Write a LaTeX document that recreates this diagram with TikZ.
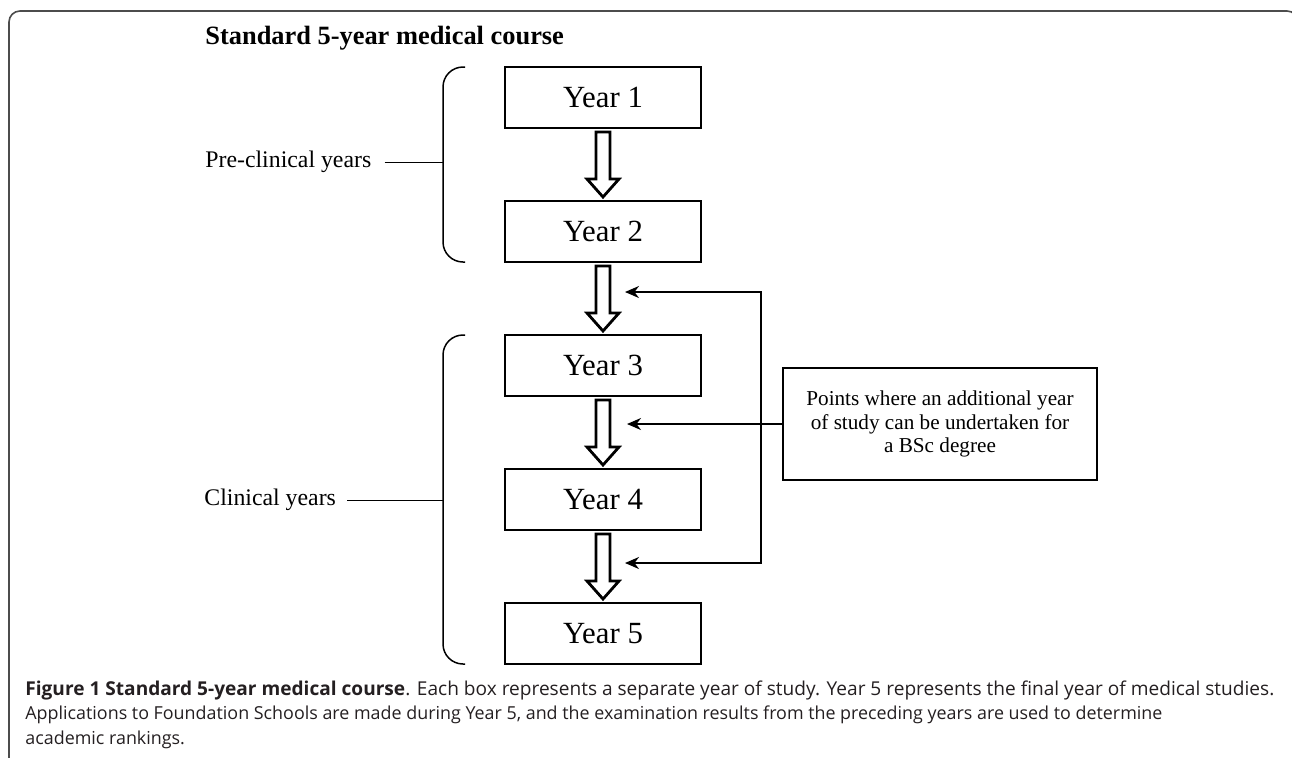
\documentclass[tikz,border=0pt]{standalone}
\usepackage{fontspec}
\usepackage{graphicx}
\setmainfont{Liberation Serif}
\newfontfamily\figcapfont{Open Sans}
\usetikzlibrary{positioning,calc,arrows.meta}
\definecolor{framegrey}{rgb}{0.3, 0.3, 0.3}
\definecolor{captiongrey}{rgb}{0.14, 0.12, 0.13}
\tikzset {
        yearbox/.style={draw,line width=1.4pt,rectangle,inner sep=0pt,outer sep=0pt,minimum width=98pt,minimum height=30.5pt,font=\fontsize{15.4}{18}\selectfont},
        notebox/.style={draw,line width=1.4pt,rectangle,align=center,inner sep=0pt,outer sep=0pt,minimum width=157pt,minimum height=56pt,font=\fontsize{10.6}{11.6}\selectfont},
        sidelabel/.style={inner sep=0pt,anchor=base west,font=\fontsize{11.9}{14}\selectfont},
        titletext/.style={inner sep=0pt,anchor=base west,font=\fontsize{13.2}{16}\selectfont\bfseries},
        captiontext/.style={inner sep=0pt,anchor=base west,text=captiongrey,font=\figcapfont\fontsize{10}{12}\selectfont},
        bracket/.style={line width=0.75pt,rounded corners=10pt},
        tick/.style={line width=0.75pt},
        fatarrow/.style={line width=1.4pt,miter limit=20,fill=white},
        pointer/.style={line width=1pt,-{Stealth[length=7pt,width=6pt]}},
        twopointer/.style={line width=1pt,{Stealth[length=7pt,width=6pt]}-{Stealth[length=7pt,width=6pt]}},
        frame/.style={line width=0.8pt,draw=framegrey,rounded corners=5.5pt}
}
% hollow block arrow from one year to the next
\newcommand{\yeararrow}[2]{
        \draw[fatarrow] ($(#1.south)+(-7,4)$) -- ($(#2.north)+(-7,-22)$) -- ($(#2.north)+(-16,-22)$)
                -- ($(#2.north)+(0,-4)$) -- ($(#2.north)+(16,-22)$) -- ($(#2.north)+(7,-22)$)
                -- ($(#1.south)+(7,4)$) -- cycle;
}
\newcommand{\capsecond}{Applications to Foundation Schools are made during Year 5, and the examination results from the preceding years are used to determine}
\newsavebox{\capsavebox}

\begin{document}
% caption is scaled so that its second line is 568.5pt wide
\sbox{\capsavebox}{\figcapfont\fontsize{10}{12}\selectfont\capsecond}
\pgfmathsetmacro{\capscale}{568.5pt/\the\wd\capsavebox}
\begin{tikzpicture}[x=0.5pt,y=-0.5pt]
            \useasboundingbox (0,0) rectangle (1292,757);
            \draw[frame] (9,11) rectangle (1298,800);

            \node[titletext] (Title) at (205,44) {Standard 5-year medical course};

            \node[yearbox] (YearOne) at (603,97.5) {
                Year 1
            };
            \node[below=36.5pt of YearOne, yearbox] (YearTwo) {
                Year 2
            };
            \node[below=36.5pt of YearTwo, yearbox] (YearThree) {
                Year 3
            };
            \node[below=36.5pt of YearThree, yearbox] (YearFour) {
                Year 4
            };
            \node[below=36.5pt of YearFour, yearbox] (YearFive) {
                Year 5
            };

            \yeararrow{YearOne}{YearTwo}
            \yeararrow{YearTwo}{YearThree}
            \yeararrow{YearThree}{YearFour}
            \yeararrow{YearFour}{YearFive}

            % brackets for the two groups of years
            \coordinate[left=31pt of YearOne.west] (BracketOne);
            \coordinate[left=31pt of YearFour.west] (BracketTwo);
            \draw[bracket] ($(YearOne.north west)+(-40,0)$) -| ($(YearTwo.south west)+(-62,0)$) -- ($(YearTwo.south west)+(-40,0)$);
            \draw[bracket] ($(YearThree.north west)+(-40,0)$) -| ($(YearFive.south west)+(-62,0)$) -- ($(YearFive.south west)+(-40,0)$);

            \node[sidelabel] (PreClinical) at (205,167) {Pre-clinical years};
            \node[sidelabel] (Clinical) at (204,505) {Clinical years};
            \draw[tick] ([xshift=6.5pt]PreClinical.mid east) -- (PreClinical.mid east -| BracketOne);
            \draw[tick] ([xshift=5.5pt]Clinical.mid east) -- (Clinical.mid east -| BracketTwo);

            \node[notebox] (BScNote) at (940,424) {
                Points where an additional year\\ of study can be undertaken for\\ a BSc degree
            };

            \coordinate[above right=21.5pt and 11pt of YearThree.north] (IntoThree);
            \coordinate[above right=22pt and 12pt of YearFour.north] (IntoFour);
            \coordinate[above right=20pt and 11pt of YearFive.north] (IntoFive);
            \coordinate[left=11pt of BScNote.west] (Rail);
            \draw[twopointer] (IntoThree) -| (Rail) |- (IntoFive);
            \draw[pointer] (BScNote.west) -- (BScNote.west -| IntoFour);

            \node[captiontext] (CaptionOne) at (25,695) {\resizebox{624.5pt}{!}{\textbf{Figure 1 Standard 5-year medical course}. Each box represents a separate year of study. Year 5 represents the final year of medical studies.}};
            \node[captiontext] (CaptionTwo) at (25,719.5) {\scalebox{\capscale}{\capsecond}};
            \node[captiontext] (CaptionThree) at (25,744) {\scalebox{\capscale}{academic rankings.}};
\end{tikzpicture}
\end{document}
